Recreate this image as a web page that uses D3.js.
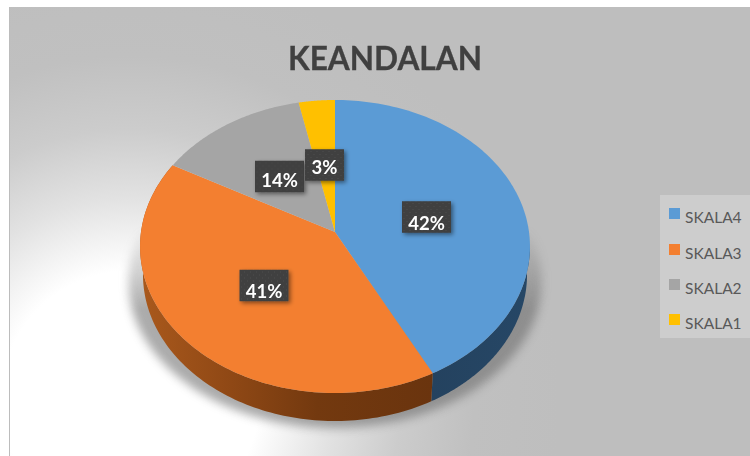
<!DOCTYPE html>
<html><head><meta charset="utf-8">
<style>html,body{margin:0;padding:0;background:#fff;overflow:hidden}svg{display:block;filter:blur(.35px)}</style>
<script src="https://cdn.jsdelivr.net/npm/d3@7/dist/d3.min.js"></script>
</head><body>
<script>
const categories = ["SKALA4","SKALA3","SKALA2","SKALA1"];
const values = [42.4,40.6,13.7,3.3];
const colors = ["#5b9bd5","#f37f30","#a5a5a5","#ffc000"];
const labelCenters = [[426.5,217],[264,285.5],[279.5,176.5],[324.5,165]];
const labelBaselines = [13,12.5,10.5,9];
const legendSwatchY = [208,244,279,314];

const W=750,H=456;
const svg=d3.select("body").append("svg").attr("width",W).attr("height",H);
const defs=svg.append("defs");

const bg=defs.append("radialGradient").attr("id","bg").attr("gradientUnits","userSpaceOnUse")
  .attr("cx",130).attr("cy",400).attr("r",430);
[[0,"#ffffff"],[.3,"#ffffff"],[.47,"#e2e2e2"],[.63,"#cccccc"],[.8,"#c0c0c0"],[1,"#bebebe"]]
  .forEach(s=>bg.append("stop").attr("offset",s[0]).attr("stop-color",s[1]));

const sideO=defs.append("linearGradient").attr("id","sideOrange").attr("gradientUnits","userSpaceOnUse")
  .attr("x1",145).attr("x2",432).attr("y1",0).attr("y2",0);
[[0,"#a8581c"],[.3,"#8f4815"],[.6,"#73390f"],[1,"#6a340e"]].forEach(s=>sideO.append("stop").attr("offset",s[0]).attr("stop-color",s[1]));
const sideB=defs.append("linearGradient").attr("id","sideBlue").attr("gradientUnits","userSpaceOnUse")
  .attr("x1",432).attr("x2",530).attr("y1",0).attr("y2",0);
[[0,"#24425f"],[1,"#264766"]].forEach(s=>sideB.append("stop").attr("offset",s[0]).attr("stop-color",s[1]));

defs.append("filter").attr("id","blurShadow").attr("x","-20%").attr("y","-20%").attr("width","140%").attr("height","140%")
  .append("feGaussianBlur").attr("stdDeviation",5);
const ls=defs.append("filter").attr("id","boxShadow").attr("x","-30%").attr("y","-30%").attr("width","170%").attr("height","170%");
ls.append("feDropShadow").attr("dx",2).attr("dy",2).attr("stdDeviation",2).attr("flood-color","#000").attr("flood-opacity",.45);
const pat=defs.append("pattern").attr("id","dots").attr("width",6).attr("height",6).attr("patternUnits","userSpaceOnUse");
pat.append("rect").attr("width",6).attr("height",6).attr("fill","#3f3f3f");
pat.append("circle").attr("cx",1.5).attr("cy",1.5).attr("r",.8).attr("fill","#4a4a4a");
pat.append("circle").attr("cx",4.5).attr("cy",4.5).attr("r",.8).attr("fill","#4a4a4a");

const fade=defs.append("linearGradient").attr("id","fade").attr("gradientUnits","userSpaceOnUse")
  .attr("x1",0).attr("x2",0).attr("y1",225).attr("y2",310);
[[0,"#000"],[1,"#fff"]].forEach(s=>fade.append("stop").attr("offset",s[0]).attr("stop-color",s[1]));
defs.append("mask").attr("id","shMask").attr("maskUnits","userSpaceOnUse")
  .attr("x",0).attr("y",0).attr("width",W).attr("height",H)
  .append("rect").attr("width",W).attr("height",H).attr("fill","url(#fade)");

svg.append("rect").attr("x",9).attr("y",7).attr("width",W-9).attr("height",H-7).attr("fill","url(#bg)");
svg.append("rect").attr("x",9).attr("y",7).attr("width",1).attr("height",H-7).attr("fill","#bcbcbc");

// projection of a tilted disc
const cx=335, rx=194, yTop=100, yMid=232, yBot=393;
const c=(2*yMid-yTop-yBot)/(yBot-yTop);
const b=yMid-yTop+yTop*c;
function proj(a,dy=0,sx=1){
  const v=-Math.cos(a), den=1+c*v;
  return [cx+sx*rx*Math.sin(a)/den,(yMid+b*v)/den+dy];
}
const pie=d3.pie().sort(null)(values);
const line=d3.line();
const steps=(a0,a1)=>d3.range(0,121).map(i=>a0+(a1-a0)*i/120);
const depth=28, sxBottom=.985;

// shadow below the disc
const shadowPts=steps(0,2*Math.PI).map(a=>proj(a,35,1.06));
svg.append("g").attr("mask","url(#shMask)").append("path")
  .attr("d",line(shadowPts)+"Z").attr("fill","#666").attr("opacity",.55).attr("filter","url(#blurShadow)");

// side walls
function wall(a0,a1,fill){
  const top=steps(a0,a1).map(a=>proj(a));
  const bot=steps(a1,a0).map(a=>proj(a,depth,sxBottom));
  svg.append("path").attr("d",line(top.concat(bot))+"Z").attr("fill",fill);
}
const aRight=Math.PI/2+.08;
wall(aRight,pie[0].endAngle,"url(#sideBlue)");
wall(pie[0].endAngle,pie[1].endAngle,"url(#sideOrange)");

// top faces
svg.append("g").selectAll("path").data(pie).join("path")
  .attr("d",d=>line([[cx,yMid]].concat(steps(d.startAngle,d.endAngle).map(a=>proj(a))))+"Z")
  .attr("fill",(d,i)=>colors[i]);

// title
svg.append("text").attr("x",385).attr("y",70).attr("text-anchor","middle")
  .attr("textLength",194).attr("lengthAdjust","spacingAndGlyphs")
  .attr("font-family","Lato").attr("font-size",33).attr("font-weight",700)
  .attr("fill","#404040").attr("stroke","#404040").attr("stroke-width",.3).text("KEANDALAN");

// value labels
const boxW=[49,49,49,39], boxH=31.5;
const lab=svg.append("g").selectAll("g").data(pie).join("g")
  .attr("transform",(d,i)=>`translate(${labelCenters[i][0]},${labelCenters[i][1]})`);
lab.append("rect").attr("x",(d,i)=>-boxW[i]/2).attr("y",-boxH/2).attr("width",(d,i)=>boxW[i]).attr("height",boxH)
  .attr("fill","url(#dots)").attr("filter","url(#boxShadow)");
lab.append("text").attr("text-anchor","middle").attr("y",(d,i)=>labelBaselines[i]).attr("font-family","Lato").attr("font-size",18.5).attr("font-weight",700)
  .attr("fill","#fff").text(d=>Math.round(d.value)+"%");

// legend
svg.append("rect").attr("x",660).attr("y",195).attr("width",90).attr("height",143).attr("fill","#cdcdcd");
const leg=svg.append("g").selectAll("g").data(categories).join("g");
leg.append("rect").attr("x",669).attr("y",(d,i)=>legendSwatchY[i]).attr("width",11).attr("height",11).attr("fill",(d,i)=>colors[i]);
leg.append("text").attr("x",685).attr("y",(d,i)=>legendSwatchY[i]+15).attr("font-family","Lato").attr("font-size",15.5)
  .attr("fill","#595959").text(d=>d);
</script>
</body></html>
